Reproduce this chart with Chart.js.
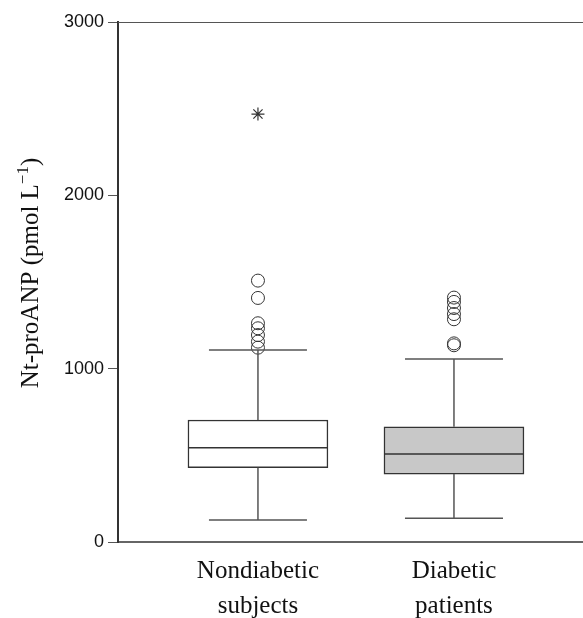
<!DOCTYPE html>
<html>
<head>
<meta charset="utf-8">
<script src="https://cdn.jsdelivr.net/npm/chart.js@4"></script>
<style>
html,body{margin:0;padding:0;background:#fff;overflow:hidden;}
#wrap{width:583px;height:618px;position:relative;}
</style>
</head>
<body>
<div id="wrap"><canvas id="c"></canvas></div>
<script>
// ---- data ----
const groupLabels = [['Nondiabetic', 'subjects'], ['Diabetic', 'patients']];
const groupX = [1, 2];
const whiskerLow = [127, 137];
const q1 = [429, 392];
const median = [544, 508];
const q3 = [704, 665];
const whiskerHigh = [1108, 1056];
const outliersNondiabetic = [1508, 1408, 1262, 1233, 1194, 1156, 1121];
const outliersDiabetic = [1410, 1385, 1350, 1315, 1285, 1146, 1135];
const extremeNondiabetic = [2469];
const yTicks = [0, 1000, 2000, 3000];
const yTitleMain = 'Nt-proANP (pmol L';
const yTitleSup = '\u22121';
const yTitleEnd = ')';

const boxFill = ['#ffffff', '#c8c8c8'];
const lineColor = '#333333';

const boxPlugin = {
  id: 'boxParts',
  afterDatasetsDraw(chart) {
    const {ctx, scales: {x, y}, chartArea} = chart;
    ctx.save();
    // frame lines (top and bottom) running to the canvas edge
    ctx.lineWidth = 1;
    ctx.strokeStyle = '#555555';
    ctx.beginPath();
    ctx.moveTo(chartArea.left, chartArea.top + 0.5);
    ctx.lineTo(chart.width, chartArea.top + 0.5);
    ctx.stroke();
    ctx.lineWidth = 1.5;
    ctx.strokeStyle = lineColor;
    ctx.beginPath();
    ctx.moveTo(chartArea.left, chartArea.bottom);
    ctx.lineTo(chart.width, chartArea.bottom);
    ctx.stroke();

    groupX.forEach((gx, i) => {
      const cx = x.getPixelForValue(gx);
      const capL = x.getPixelForValue(gx - 0.25);
      const capR = x.getPixelForValue(gx + 0.25);
      const boxL = x.getPixelForValue(gx - 0.357);
      const boxR = x.getPixelForValue(gx + 0.357);
      ctx.strokeStyle = '#555555';
      ctx.beginPath();
      ctx.moveTo(cx, y.getPixelForValue(q3[i]));
      ctx.lineTo(cx, y.getPixelForValue(whiskerHigh[i]));
      ctx.moveTo(capL, y.getPixelForValue(whiskerHigh[i]));
      ctx.lineTo(capR, y.getPixelForValue(whiskerHigh[i]));
      ctx.moveTo(cx, y.getPixelForValue(q1[i]));
      ctx.lineTo(cx, y.getPixelForValue(whiskerLow[i]));
      ctx.moveTo(capL, y.getPixelForValue(whiskerLow[i]));
      ctx.lineTo(capR, y.getPixelForValue(whiskerLow[i]));
      ctx.stroke();
      ctx.strokeStyle = lineColor;
      ctx.beginPath();
      ctx.moveTo(boxL, y.getPixelForValue(median[i]));
      ctx.lineTo(boxR, y.getPixelForValue(median[i]));
      ctx.stroke();
    });
    ctx.restore();
  },
  afterDraw(chart) {
    const {ctx} = chart;
    ctx.save();
    ctx.translate(38, 273);
    ctx.rotate(-Math.PI / 2);
    ctx.fillStyle = '#111';
    ctx.textBaseline = 'alphabetic';
    const mainFont = '25px "Liberation Serif"';
    const supFont = '17px "Liberation Serif"';
    ctx.font = mainFont;
    const w1 = ctx.measureText(yTitleMain).width;
    const w3 = ctx.measureText(yTitleEnd).width;
    ctx.font = supFont;
    const w2 = ctx.measureText(yTitleSup).width;
    const total = w1 + w2 + w3;
    let px = -total / 2;
    ctx.font = mainFont;
    ctx.fillText(yTitleMain, px, 0);
    px += w1;
    ctx.font = supFont;
    ctx.fillText(yTitleSup, px, -10);
    px += w2;
    ctx.font = mainFont;
    ctx.fillText(yTitleEnd, px, 0);
    ctx.restore();
  }
};

new Chart(document.getElementById('c'), {
  type: 'bar',
  data: {
    datasets: [
      {
        type: 'bar',
        data: groupX.map((gx, i) => ({x: gx, y: [q1[i], q3[i]]})),
        backgroundColor: boxFill,
        borderColor: lineColor,
        borderWidth: 1.5,
        borderSkipped: false,
        barThickness: 140,
        order: 2
      },
      {
        type: 'scatter',
        data: outliersNondiabetic.map(v => ({x: groupX[0], y: v}))
          .concat(outliersDiabetic.map(v => ({x: groupX[1], y: v}))),
        pointStyle: 'circle',
        pointRadius: 6.5,
        backgroundColor: 'rgba(255,255,255,0)',
        borderColor: '#333',
        borderWidth: 1,
        order: 1
      },
      {
        type: 'scatter',
        data: extremeNondiabetic.map(v => ({x: groupX[0], y: v})),
        pointStyle: 'star',
        pointRadius: 6.5,
        borderColor: '#333',
        borderWidth: 1.2,
        order: 1
      }
    ]
  },
  options: {
    responsive: true,
    maintainAspectRatio: false,
    animation: false,
    events: [],
    layout: {padding: 0},
    plugins: {legend: {display: false}, tooltip: {enabled: false}},
    scales: {
      x: {
        type: 'linear',
        position: 'bottom',
        offset: false,
        min: 0.286,
        max: 2.619,
        afterBuildTicks(scale) { scale.ticks = groupX.map(v => ({value: v})); },
        afterFit(scale) { scale.height = 76; },
        grid: {display: false, drawTicks: false, offset: false},
        border: {display: false},
        ticks: {
          padding: 12,
          color: '#111',
          maxRotation: 0,
          font: {family: '"Liberation Serif"', size: 25, lineHeight: 1.4},
          callback(v) { const i = groupX.indexOf(v); return i >= 0 ? groupLabels[i] : ''; }
        }
      },
      xTop: {
        type: 'linear',
        position: 'top',
        offset: false,
        min: 0.286,
        max: 2.619,
        afterFit(scale) { scale.height = 22; },
        grid: {display: false, drawTicks: false},
        border: {display: false},
        ticks: {display: false}
      },
      y: {
        min: 0,
        max: 3000,
        afterBuildTicks(scale) { scale.ticks = yTicks.map(v => ({value: v})); },
        afterFit(scale) { scale.width = 118; },
        grid: {drawOnChartArea: false, drawTicks: true, tickLength: 10, color: '#555', tickWidth: 1},
        border: {display: true, color: lineColor, width: 2},
        ticks: {
          padding: 4,
          color: '#111',
          font: {family: '"Liberation Sans"', size: 18},
          callback(v) { return String(v); }
        }
      }
    }
  },
  plugins: [boxPlugin]
});
</script>
</body>
</html>
